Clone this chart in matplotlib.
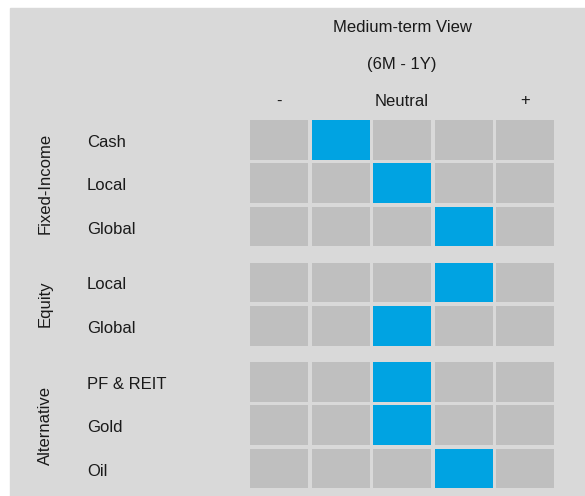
import matplotlib
matplotlib.use("Agg")
from matplotlib import pyplot as plt
from matplotlib.patches import Rectangle

# data
groups = ["Fixed-Income", "Equity", "Alternative"]
assets = [["Cash", "Local", "Global"],
          ["Local", "Global"],
          ["PF & REIT", "Gold", "Oil"]]
# position on the 5-step scale (1 = most negative, 3 = neutral, 5 = most positive)
views = [[2, 3, 4],
         [4, 3],
         [3, 3, 4]]
scale_labels = ["-", "", "Neutral", "", "+"]
header = ["Medium-term View", "(6M - 1Y)"]

BG = "#d9d9d9"
CELL = "#bfbfbf"
BLUE = "#00a3e2"
TXT = "#1a1a1a"

plt.rcParams["font.family"] = ["Liberation Sans", "DejaVu Sans"]
plt.rcParams["font.size"] = 12

fig = plt.figure(figsize=(5.85, 4.96), dpi=100)
ax = fig.add_axes([0, 0, 1, 1])
ax.set_xlim(0, 585)
ax.set_ylim(496, 0)
ax.axis("off")

ax.add_patch(Rectangle((10, 8), 580, 490, color=BG, zorder=0))

n_cols = len(scale_labels)
col_x0, col_pitch, cell_w = 250, 61.5, 58
row_y0, row_pitch, cell_h, group_gap = 120, 43.4, 39.5, 12.5

def col_center(c):
    return col_x0 + c * col_pitch + cell_w / 2

# header
ax.text(col_center(2), 27, header[0], ha="center", va="center", color=TXT)
ax.text(col_center(2), 64, header[1], ha="center", va="center", color=TXT)
for c, lab in enumerate(scale_labels):
    if lab:
        ax.text(col_center(c), 101, lab, ha="center", va="center", color=TXT)

y = row_y0
for g, name in enumerate(groups):
    g_top = y
    for a, asset in enumerate(assets[g]):
        colors = [BLUE if c + 1 == views[g][a] else CELL for c in range(n_cols)]
        lefts = [col_x0 + c * col_pitch for c in range(n_cols)]
        ax.barh([y + cell_h / 2] * n_cols, [cell_w] * n_cols, left=lefts,
                height=cell_h, color=colors, zorder=2)
        ax.text(87, y + cell_h / 2 + 1, asset, ha="left", va="center_baseline",
                color=TXT)
        y += row_pitch
    g_bot = y - row_pitch + cell_h
    ax.text(45, (g_top + g_bot) / 2, name, rotation=90, ha="center",
            va="center", color=TXT)
    y += group_gap

fig.savefig("out.png", dpi=100, facecolor="white")
